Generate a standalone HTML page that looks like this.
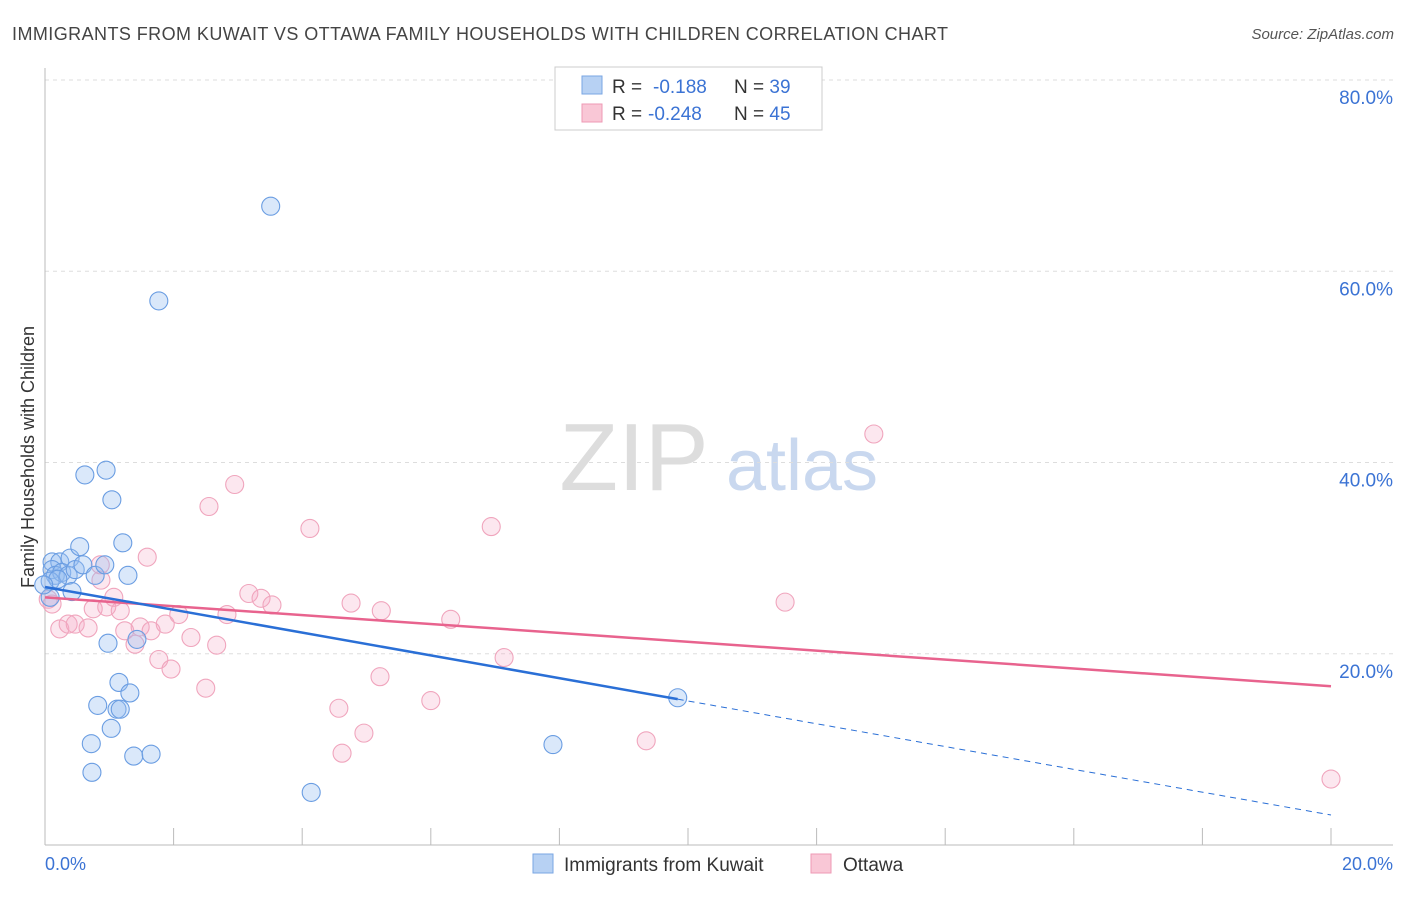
<!DOCTYPE html>
<html><head><meta charset="utf-8"><style>
body{margin:0;background:#fff;font-family:"Liberation Sans",sans-serif;}
svg text{font-family:"Liberation Sans",sans-serif;}
</style></head><body>
<svg id="c" width="1406" height="892" xmlns="http://www.w3.org/2000/svg">
<text x="12" y="40" font-size="18" fill="#444" textLength="936">IMMIGRANTS FROM KUWAIT VS OTTAWA FAMILY HOUSEHOLDS WITH CHILDREN CORRELATION CHART</text>
<text x="1394" y="39" font-size="15" fill="#555" font-style="italic" text-anchor="end">Source: ZipAtlas.com</text>
<text x="634" y="490" font-size="96" fill="#ddd" font-family="Liberation Serif" text-anchor="middle">ZIP</text>
<text x="802" y="490" font-size="72" fill="#c9d8ef" text-anchor="middle">atlas</text>
<g id="grid"></g>
<line x1="45" y1="68" x2="45" y2="845" stroke="#bbb"/>
<line x1="45" y1="845" x2="1393" y2="845" stroke="#bbb"/>
<text x="34" y="457" font-size="18" fill="#333" text-anchor="middle" transform="rotate(-90 34 457)">Family Households with Children</text>
<text x="45" y="870" font-size="18" fill="#3b73d4">0.0%</text>
<text x="1393" y="870" font-size="18" fill="#3b73d4" text-anchor="end">20.0%</text>
<g id="pts"></g>
<g id="trend"></g>
<g>
<rect x="555" y="67" width="267" height="63" fill="#fff" stroke="#ccc"/>
<rect x="582" y="76" width="20" height="18" fill="#b7d1f3" stroke="#7aa6e3"/>
<rect x="582" y="104" width="20" height="18" fill="#f9c7d6" stroke="#ee9ab4"/>
<text x="612" y="93" font-size="19" fill="#333">R = <tspan x="653" fill="#3b73d4">-0.188</tspan><tspan x="734">N = </tspan><tspan fill="#3b73d4">39</tspan></text>
<text x="612" y="120" font-size="19" fill="#333">R = <tspan x="648" fill="#3b73d4">-0.248</tspan><tspan x="734">N = </tspan><tspan fill="#3b73d4">45</tspan></text>
</g>
<g>
<rect x="533" y="854" width="20" height="19" fill="#b7d1f3" stroke="#7aa6e3"/>
<text x="564" y="871" font-size="19" fill="#333">Immigrants from Kuwait</text>
<rect x="811" y="854" width="20" height="19" fill="#f9c7d6" stroke="#ee9ab4"/>
<text x="843" y="871" font-size="19" fill="#333">Ottawa</text>
</g>
</svg>
<script>
const yTicks=[20,40,60,80];
const yTickLabels=["20.0%","40.0%","60.0%","80.0%"];
const xMinorTicks=[2,4,6,8,10,12,14,16,18,20];
const kuwaitX=[0.11,0.23,0.39,0.54,0.11,0.16,0.26,0.36,0.47,0.59,0.78,0.93,1.29,0.08,0.2,0.42,0.08,0.62,0.95,1.04,1.21,0.98,1.43,1.15,1.32,0.82,1.12,1.17,1.03,0.72,0.73,1.38,1.65,1.77,3.51,4.14,7.9,9.84,-0.02];
const kuwaitY=[29.6,29.6,30.0,31.2,28.8,28.2,28.5,28.2,28.8,29.3,28.2,29.3,28.2,27.6,27.8,26.5,25.9,38.7,39.2,36.1,31.6,21.1,21.5,17.0,15.9,14.6,14.2,14.2,12.2,10.6,7.6,9.3,9.5,56.9,66.8,5.5,10.5,15.4,27.2];
const ottawaX=[0.11,0.23,0.36,0.47,0.67,0.75,0.87,0.96,1.07,1.17,1.24,1.4,1.48,1.59,1.65,1.87,2.08,1.77,1.96,2.27,2.5,2.55,2.67,2.83,2.95,3.17,3.36,3.53,4.12,4.57,4.62,4.76,4.96,5.21,5.23,6.0,6.31,6.94,7.14,9.35,11.51,12.89,20.0,0.05,0.86];
const ottawaY=[25.2,22.6,23.1,23.1,22.7,24.7,27.7,24.9,25.9,24.5,22.4,21.0,22.8,30.1,22.4,23.1,24.1,19.4,18.4,21.7,16.4,35.4,20.9,24.1,37.7,26.3,25.8,25.1,33.1,14.3,9.6,25.3,11.7,17.6,24.5,15.1,23.6,33.3,19.6,10.9,25.4,42.98,6.9,25.7,29.3];
const kuwaitTrend=[26.98,3.14];
const ottawaTrend=[25.9,16.6];
const NS="http://www.w3.org/2000/svg";
const xs=v=>45+v/20*1286;
const ys=v=>845-v/80*765;
function mk(t,a,p){const e=document.createElementNS(NS,t);for(const k in a)e.setAttribute(k,a[k]);p.appendChild(e);return e;}
const grid=document.getElementById('grid');
yTicks.forEach((t,i)=>{
 const l=mk('line',{x1:45,x2:1393,y1:ys(t),y2:ys(t),stroke:'#ddd','stroke-dasharray':'4,4'},grid);
 
 
 const tx=mk('text',{x:1393,y:ys(t)+24,'font-size':19,fill:'#3b73d4','text-anchor':'end'},grid);
 tx.textContent=yTickLabels[i];
 
 
});
xMinorTicks.forEach(t=>{
 const l=mk('line',{x1:xs(t),x2:xs(t),y1:828,y2:845,stroke:'#bbb'},grid);
 
 
});
const pts=document.getElementById('pts');
ottawaX.forEach((x,i)=>{
 const c=mk('circle',{cx:xs(x),cy:ys(ottawaY[i]),r:9,fill:'rgba(246,170,196,0.28)',stroke:'#f0a5bd','stroke-width':1.1},pts);
 
 
});
kuwaitX.forEach((x,i)=>{
 const c=mk('circle',{cx:xs(x),cy:ys(kuwaitY[i]),r:9,fill:'rgba(150,190,240,0.35)',stroke:'#6a9de2','stroke-width':1.1},pts);
 
 
});
const tr=document.getElementById('trend');
const kAt=v=>kuwaitTrend[0]+(kuwaitTrend[1]-kuwaitTrend[0])*v/20;
const p1=mk('line',{x1:xs(0),y1:ys(ottawaTrend[0]),x2:xs(20),y2:ys(ottawaTrend[1]),stroke:'#e8638e','stroke-width':2.5},tr);


const b1=mk('line',{x1:xs(0),y1:ys(kAt(0)),x2:xs(9.84),y2:ys(kAt(9.84)),stroke:'#2a6fd6','stroke-width':2.5},tr);


const b2=mk('line',{x1:xs(9.84),y1:ys(kAt(9.84)),x2:xs(20),y2:ys(kAt(20)),stroke:'#2a6fd6','stroke-width':1,'stroke-dasharray':'6,5'},tr);


</script>
</body></html>
